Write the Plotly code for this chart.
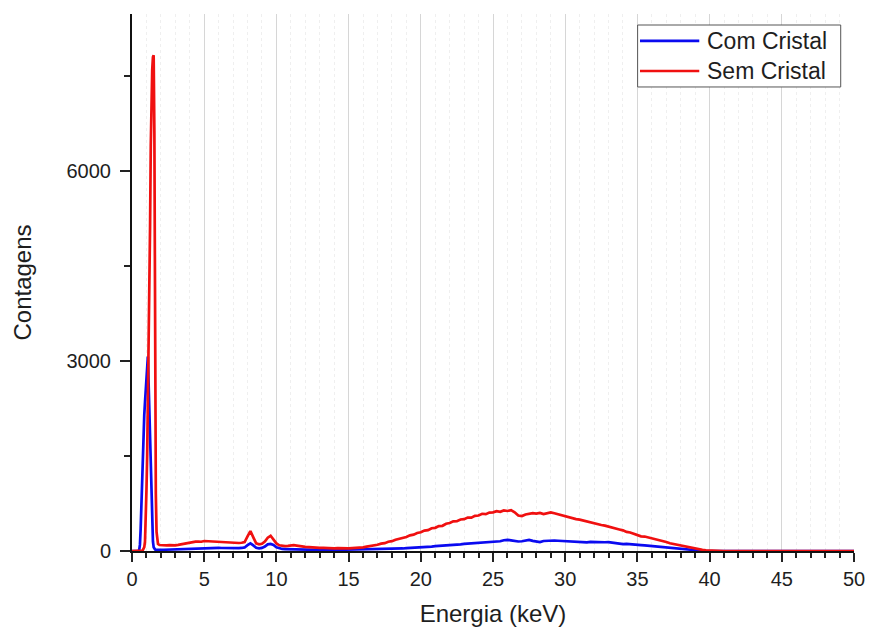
import plotly.graph_objects as go

# Energy bins (keV): fine around the L-line peak, coarser further out
energy_peak = [0, 0.3, 0.4, 0.45, 0.5, 0.55, 0.6, 0.65, 0.7, 0.75, 0.8, 0.85,
               0.9, 0.95, 1.0, 1.05, 1.1, 1.15, 1.2, 1.25, 1.3, 1.35, 1.4, 1.45,
               1.5, 1.55, 1.6, 1.65, 1.7, 1.75, 1.8, 1.9, 2.0]
energy_low = [round(2.2 + 0.2 * i, 2) for i in range(50)]       # 2.2 .. 12.0
energy_high = [round(12.25 + 0.25 * i, 2) for i in range(116)]  # 12.25 .. 41.0
energy_tail = [42, 46, 50]

# Counts - "Sem Cristal"
sem_peak = [0, 0, 0, 0, 0, 0, 0, 0, 5, 15, 30, 60, 150, 450, 950, 1500, 2300,
            3100, 4100, 5100, 6400, 7150, 7600, 7800, 7830, 6600, 2400, 900,
            300, 140, 110, 95, 92]
sem_low = [95, 90, 92, 88, 90, 96, 105, 118, 128, 135,
           140, 148, 150, 146, 158, 155, 150, 153, 147, 150,
           146, 140, 133, 130, 128, 133, 126, 130, 142, 230,
           315, 215, 120, 105, 115, 150, 210, 240, 185, 120,
           90, 80, 78, 82, 88, 92, 85, 75, 70, 64]
sem_high = [62, 56, 54, 48, 50, 44, 47, 42, 45, 40,
            43, 41, 46, 47, 55, 58, 70, 76, 90, 98,
            116, 124, 146, 155, 178, 190, 214, 222, 248, 258,
            284, 296, 322, 330, 360, 366, 394, 398, 430, 442,
            468, 470, 498, 502, 528, 526, 556, 560, 588, 582,
            606, 610, 628, 618, 640, 632, 645, 612, 560, 552,
            576, 584, 598, 590, 602, 584, 596, 610, 596, 580,
            566, 548, 530, 526, 504, 496, 480, 468, 450, 440,
            418, 410, 400, 388, 376, 362, 340, 326, 302, 292,
            268, 254, 232, 228, 214, 206, 186, 176, 152, 142,
            122, 110, 94, 82, 66, 56, 44, 36, 26, 18,
            12, 8, 5, 3, 1, 0]
sem_tail = [0, 0, 0]

# Counts - "Com Cristal"
com_peak = [0, 0, 0, 0, 20, 100, 350, 750, 1200, 1600, 1900, 2150, 2350,
            2550, 2750, 2950, 3070, 2650, 2150, 1650, 1150, 700, 350, 150,
            60, 30, 24, 22, 20, 20, 20, 20, 20]
com_low = [20, 22, 20, 22, 25, 28, 30, 35, 38, 40,
           42, 45, 48, 46, 50, 48, 50, 52, 48, 50,
           47, 45, 44, 42, 45, 43, 45, 48, 56, 92,
           120, 88, 50, 42, 48, 70, 105, 112, 95, 60,
           40, 32, 30, 28, 30, 28, 25, 24, 22, 22]
com_high = [22, 20, 18, 19, 17, 20, 18, 19, 17, 20,
            21, 22, 19, 21, 23, 24, 21, 23, 25, 27,
            28, 31, 30, 35, 34, 39, 40, 45, 47, 53,
            54, 59, 62, 67, 70, 76, 79, 85, 90, 96,
            100, 104, 106, 112, 116, 122, 128, 134, 137, 141,
            144, 148, 150, 154, 170, 176, 168, 158, 150, 154,
            162, 176, 160, 146, 140, 158, 164, 170, 166, 162,
            158, 154, 150, 150, 144, 142, 140, 137, 143, 140,
            138, 134, 138, 141, 132, 124, 116, 108, 112, 110,
            102, 96, 94, 90, 84, 78, 72, 66, 60, 54,
            47, 40, 34, 28, 22, 17, 12, 8, 5, 3,
            1, 0, 0, 0, 0, 0]
com_tail = [0, 0, 0]

series_names = ["Com Cristal", "Sem Cristal"]
series_colors = ["#0a0af0", "#f01010"]

x_ticks = [0, 5, 10, 15, 20, 25, 30, 35, 40, 45, 50]
y_ticks = [0, 3000, 6000]

energy = energy_peak + energy_low + energy_high + energy_tail
com = com_peak + com_low + com_high + com_tail
sem = sem_peak + sem_low + sem_high + sem_tail

FONT = "Liberation Sans, Arial, sans-serif"
TXT = "#1e1e1e"

fig = go.Figure()
for name, ys, color in zip(series_names, [com, sem], series_colors):
    fig.add_trace(go.Scatter(x=energy, y=ys, mode="lines", name=name,
                             line=dict(color=color, width=2.7),
                             showlegend=False))

fig.update_layout(
    width=869, height=632,
    margin=dict(l=132, r=15, t=14, b=81),
    paper_bgcolor="white", plot_bgcolor="white",
    font=dict(family=FONT, color=TXT),
)

fig.update_xaxes(
    range=[0, 50], tickvals=x_ticks, ticktext=[str(v) for v in x_ticks],
    automargin=False,
    ticks="outside", ticklen=9, tickwidth=2, tickcolor="#222",
    showline=True, linecolor="#111", linewidth=2,
    showgrid=True, gridcolor="#d6d6d6", gridwidth=1,
    zeroline=False, layer="below traces",
    tickfont=dict(size=20, family=FONT, color=TXT),
    title=dict(text="Energia (keV)", font=dict(size=24, family=FONT, color=TXT),
               standoff=16),
    minor=dict(dtick=1, tick0=0, ticks="outside", ticklen=5, tickwidth=1.5,
               tickcolor="#222", showgrid=True, gridcolor="#efefef",
               griddash="dot", gridwidth=1),
)

fig.update_yaxes(
    range=[0, 8480], tickvals=y_ticks, ticktext=[str(v) for v in y_ticks],
    automargin=False,
    ticks="outside", ticklen=10, tickwidth=2, tickcolor="#222",
    ticklabelstandoff=5,
    showline=True, linecolor="#111", linewidth=2,
    showgrid=False, zeroline=False, layer="below traces",
    tickfont=dict(size=20, family=FONT, color=TXT),
    title=dict(text="Contagens", font=dict(size=24, family=FONT, color=TXT),
               standoff=28),
    minor=dict(dtick=1500, tick0=0, ticks="outside", ticklen=6, tickwidth=1.5,
               tickcolor="#222", showgrid=False),
)

# Key box in the upper right corner
box_x0, box_x1, box_y0, box_y1 = 0.7003, 0.9816, 0.8641, 0.9795
fig.add_shape(type="rect", xref="paper", yref="paper",
              x0=box_x0, x1=box_x1, y0=box_y0, y1=box_y1,
              line=dict(color="#555", width=1), fillcolor="white", layer="above")
row_y = [0.9498, 0.8939]
for name, color, yy in zip(series_names, series_colors, row_y):
    fig.add_shape(type="line", xref="paper", yref="paper",
                  x0=0.7036, x1=0.7857, y0=yy, y1=yy,
                  line=dict(color=color, width=2.7), layer="above")
    fig.add_annotation(xref="paper", yref="paper", x=0.7935, y=yy,
                       text=name, showarrow=False, xanchor="left",
                       yanchor="middle",
                       font=dict(size=23, family=FONT, color=TXT))

fig.write_html("out.html")
